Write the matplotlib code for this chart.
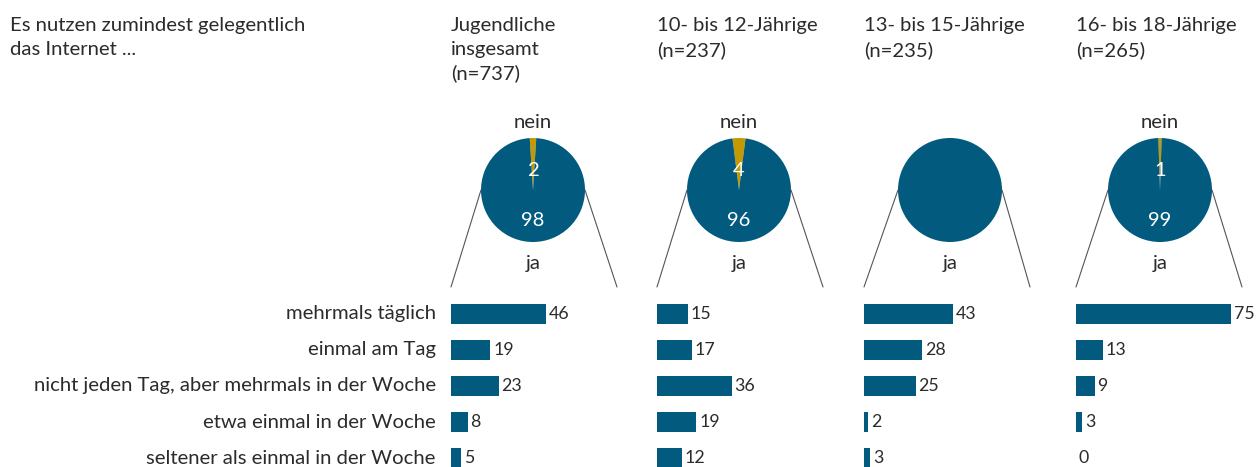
import matplotlib
matplotlib.use('Agg')
import matplotlib.pyplot as plt
from matplotlib.patches import ConnectionPatch

plt.rcParams['font.family'] = ['Lato', 'DejaVu Sans']

# ---------------- data ----------------
question = "Es nutzen zumindest gelegentlich\ndas Internet ..."
categories = ["mehrmals täglich", "einmal am Tag",
              "nicht jeden Tag, aber mehrmals in der Woche",
              "etwa einmal in der Woche", "seltener als einmal in der Woche"]
groups = ["Jugendliche\ninsgesamt\n(n=737)", "10- bis 12-Jährige\n(n=237)",
          "13- bis 15-Jährige\n(n=235)", "16- bis 18-Jährige\n(n=265)"]
ja_values = [98, 96, 100, 99]
nein_values = [2, 4, 0, 1]
freq_total = [46, 19, 23, 8, 5]
freq_10_12 = [15, 17, 36, 19, 12]
freq_13_15 = [43, 28, 25, 2, 3]
freq_16_18 = [75, 13, 9, 3, 0]
freq_all = [freq_total, freq_10_12, freq_13_15, freq_16_18]

# ---------------- style / layout ----------------
BLUE = '#025b7e'
GOLD = '#c49a00'
TXT = '#2b2b2b'
W, H = 1256, 467
FS = 14.6
FS_VAL = 12.8

bar_left = [451, 657, 864, 1076]
pie_cx = [533, 739, 950, 1160]
pie_cy, R = 190, 52
PXU = 2.07           # pixels per percentage point
BAR_W_PX = 175
LINE_END_PX = 166    # width of connector fan at bottom

def rect(x, y, w, h):
    return [x / W, 1 - (y + h) / H, w / W, h / H]

fig = plt.figure(figsize=(W / 100, H / 100), dpi=100)

fig.text(10 / W, 1 - 17 / H, question, ha='left', va='top', fontsize=FS,
         color=TXT, linespacing=1.47)

for i in range(4):
    # title
    fig.text(bar_left[i] / W, 1 - 17 / H, groups[i], ha='left', va='top',
             fontsize=FS, color=TXT, linespacing=1.47)

    # pie
    pax = fig.add_axes(rect(pie_cx[i] - R, pie_cy - R, 2 * R, 2 * R))
    n, j = nein_values[i], ja_values[i]
    start = 90 - n * 3.6 / 2
    pax.pie([n, j], colors=[GOLD, BLUE], startangle=start, radius=1,
            wedgeprops=dict(linewidth=0))
    pax.set_xlim(-1, 1)
    pax.set_ylim(-1, 1)
    pax.set_aspect('equal')
    pax.axis('off')
    if n > 0:
        pax.text(0, 1.30, "nein", ha='center', va='center', fontsize=FS, color=TXT)
        pax.text(0, 0.38, str(n), ha='center', va='center', fontsize=FS, color='white')
        pax.text(0, -0.58, str(j), ha='center', va='center', fontsize=FS, color='white')
    pax.text(0, -1.42, "ja", ha='center', va='center', fontsize=FS, color=TXT)

    # bars
    bax = fig.add_axes(rect(bar_left[i], 296, BAR_W_PX, H - 296))
    vals = freq_all[i]
    ypos = list(range(len(vals)))
    bax.barh(ypos, vals, height=0.53, color=BLUE, linewidth=0)
    bax.set_xlim(0, BAR_W_PX / PXU)
    bax.set_ylim(len(vals) - 0.75, -0.5)
    bax.axis('off')
    for y, v in zip(ypos, vals):
        bax.annotate(str(v), (v, y), xytext=(2, 0), textcoords='offset points',
                     ha='left', va='center', fontsize=FS_VAL, color=TXT,
                     annotation_clip=False)
    if i == 0:
        for y, c in zip(ypos, categories):
            bax.annotate(c, (0, y), xytext=(-11, 0), textcoords='offset points',
                         ha='right', va='center', fontsize=FS, color=TXT,
                         annotation_clip=False)

    # connector lines
    for sx, ex in [(-1, 0), (1, LINE_END_PX / PXU)]:
        con = ConnectionPatch(xyA=(sx, 0), coordsA=pax.transData,
                              xyB=(ex, -0.75), coordsB=bax.transData,
                              color='#555555', linewidth=0.8)
        fig.add_artist(con)

fig.savefig('out.png', dpi=100, facecolor='white')
